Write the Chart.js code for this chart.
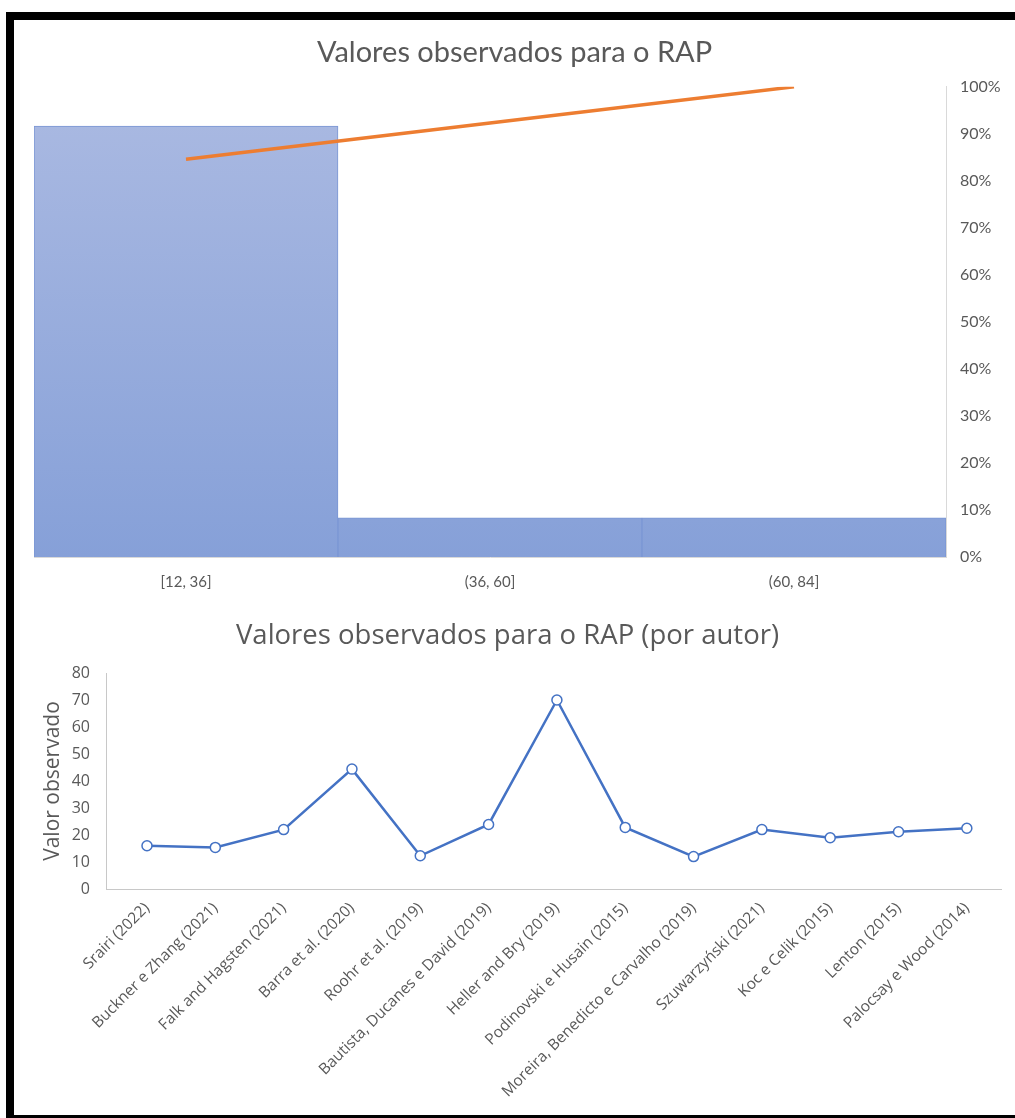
<!DOCTYPE html>
<html>
<head>
<meta charset="utf-8">
<title>Valores observados para o RAP</title>
<script src="https://cdn.jsdelivr.net/npm/chart.js@4"></script>
<style>
  html, body { margin: 0; padding: 0; background: #ffffff; }
  body { width: 1015px; height: 1118px; position: relative; overflow: hidden; }
  .frame-top { position: absolute; left: 6px; top: 12px; width: 1009px; height: 8px; background: #000; }
  .frame-left { position: absolute; left: 6px; top: 12px; width: 8px; height: 1106px; background: #000; }
  .frame-bottom { position: absolute; left: 6px; top: 1115px; width: 1009px; height: 3px; background: #000; }
  #histWrap { position: absolute; left: 14px; top: 20px; width: 1001px; height: 580px; }
  #lineWrap { position: absolute; left: 14px; top: 600px; width: 1001px; height: 515px; }
  canvas { display: block; }
</style>
</head>
<body>
<div class="frame-top"></div>
<div class="frame-left"></div>
<div class="frame-bottom"></div>
<div id="histWrap"><canvas id="hist" width="1001" height="580"></canvas></div>
<div id="lineWrap"><canvas id="line" width="1001" height="515"></canvas></div>

<script>
// Histogram bins of the observed RAP values
const binLabels = ['[12, 36]', '(36, 60]', '(60, 84]'];
const binCounts = [11, 1, 1];
const cumulativePct = [84.6, 92.3, 100];
const pctTicks = [0, 10, 20, 30, 40, 50, 60, 70, 80, 90, 100];

// Observed value per author
const authors = [
  'Srairi (2022)',
  'Buckner e Zhang (2021)',
  'Falk and Hagsten (2021)',
  'Barra et al. (2020)',
  'Roohr et al. (2019)',
  'Bautista, Ducanes e David (2019)',
  'Heller and Bry (2019)',
  'Podinovski e Husain (2015)',
  'Moreira, Benedicto e Carvalho (2019)',
  'Szuwarzyński (2021)',
  'Koc e Celik (2015)',
  'Lenton (2015)',
  'Palocsay e Wood (2014)'
];
const observed = [16, 15.4, 22, 44.4, 12.3, 23.9, 70, 22.8, 12, 22, 19, 21.2, 22.5];
const valueTicks = [0, 10, 20, 30, 40, 50, 60, 70, 80];

const textGray = '#595959';
const axisGray = '#d9d9d9';

// ---- Pareto histogram ----
new Chart(document.getElementById('hist'), {
  data: {
    labels: binLabels,
    datasets: [
      {
        type: 'line',
        data: cumulativePct,
        yAxisID: 'pct',
        borderColor: '#ed7d31',
        borderWidth: 3.5,
        pointRadius: 0,
        tension: 0,
        order: 0
      },
      {
        type: 'bar',
        data: binCounts,
        yAxisID: 'count',
        backgroundColor: (ctx) => {
          const area = ctx.chart.chartArea;
          if (!area) return '#8ea6da';
          const g = ctx.chart.ctx.createLinearGradient(0, area.top, 0, area.bottom);
          g.addColorStop(0, '#abbae2');
          g.addColorStop(1, '#86a0d8');
          return g;
        },
        borderColor: '#7a96d4',
        borderWidth: 1,
        barPercentage: 1,
        categoryPercentage: 1,
        order: 1
      }
    ]
  },
  options: {
    responsive: false,
    animation: false,
    layout: { padding: 0 },
    plugins: {
      legend: { display: false },
      tooltip: { enabled: false },
      title: {
        display: true,
        text: 'Valores observados para o RAP',
        color: textGray,
        font: { family: 'Lato', size: 29, weight: 'normal' },
        padding: { top: 15, bottom: 17 }
      }
    },
    scales: {
      x: {
        grid: { display: false },
        border: { display: true, color: axisGray },
        ticks: { color: textGray, font: { family: 'Lato', size: 15 }, padding: 8 },
        afterFit: (s) => { s.height = 43; }
      },
      count: {
        display: false,
        min: 0,
        max: 12,
        afterFit: (s) => { s.width = 20; }
      },
      pct: {
        position: 'right',
        min: 0,
        max: 100,
        afterBuildTicks: (s) => { s.ticks = pctTicks.map(v => ({ value: v })); },
        grid: { display: false },
        border: { display: true, color: axisGray },
        ticks: {
          color: textGray,
          font: { family: 'Lato', size: 16 },
          padding: 6,
          callback: (v) => v + '%'
        },
        afterFit: (s) => { s.width = 69; }
      }
    }
  }
});

// ---- Observed values by author ----
// Authors sit at integer positions on a numeric x axis, so the category
// band can start a little inside the plot edge.
new Chart(document.getElementById('line'), {
  type: 'line',
  data: {
    datasets: [{
      data: observed.map((v, i) => ({ x: i, y: v })),
      borderColor: '#4472c4',
      borderWidth: 2.5,
      pointRadius: 5,
      pointBackgroundColor: '#ffffff',
      pointBorderColor: '#4472c4',
      pointBorderWidth: 1.5,
      tension: 0
    }]
  },
  options: {
    responsive: false,
    animation: false,
    layout: { padding: { right: 14 } },
    plugins: {
      legend: { display: false },
      tooltip: { enabled: false },
      title: {
        display: true,
        text: 'Valores observados para o RAP (por autor)',
        color: textGray,
        font: { family: 'Open Sans', size: 27.5, weight: 'normal' },
        padding: { top: 20, bottom: 20 }
      }
    },
    scales: {
      x: {
        type: 'linear',
        min: -0.6,
        max: authors.length - 0.5,
        afterBuildTicks: (s) => { s.ticks = authors.map((a, i) => ({ value: i })); },
        grid: { display: false },
        border: { display: true, color: '#c8c8c8' },
        ticks: {
          color: textGray,
          font: { family: 'Open Sans', size: 15.5 },
          maxRotation: 45,
          minRotation: 45,
          autoSkip: false,
          padding: 2,
          callback: (v) => authors[v]
        },
        afterFit: (s) => { s.height = 226; }
      },
      y: {
        min: 0,
        max: 80,
        afterBuildTicks: (s) => { s.ticks = valueTicks.map(v => ({ value: v })); },
        ticks: {
          color: textGray,
          font: { family: 'Open Sans', size: 16 },
          padding: 8
        },
        grid: { display: false },
        border: { display: true, color: '#c8c8c8' },
        title: {
          display: true,
          text: 'Valor observado',
          color: textGray,
          font: { family: 'Open Sans', size: 21 },
          padding: { top: 26, bottom: 0 }
        },
        afterFit: (s) => { s.width = 92; }
      }
    }
  }
});
</script>
</body>
</html>
